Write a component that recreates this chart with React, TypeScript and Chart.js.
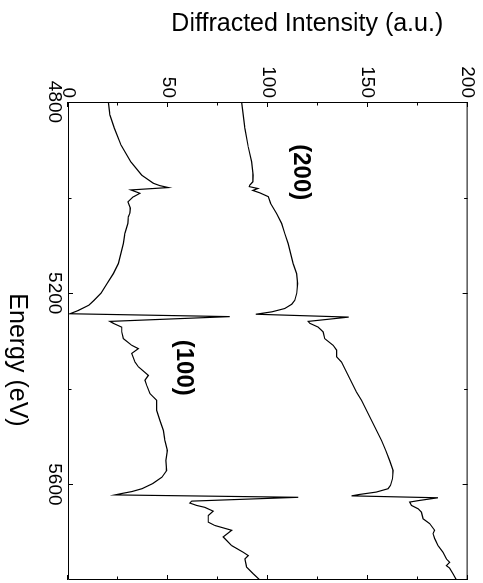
import { useEffect, useRef } from 'react';
import { Chart, registerables } from 'chart.js';

Chart.register(...registerables);

// Energy scans of the two reflections (eV) and their diffracted intensity (a.u.)
const ENERGY_100 = [
  4800, 4827, 4855, 4890, 4925, 4953, 4970, 4975, 4979, 4984, 4991, 4999, 5009, 5022, 5032,
  5040, 5054, 5075, 5096, 5117, 5138, 5159, 5180, 5200, 5215, 5225, 5236, 5243, 5249, 5259,
  5263, 5271, 5281, 5295, 5309, 5316, 5326, 5344, 5354, 5372, 5382, 5393, 5410, 5424, 5445,
  5466, 5487, 5508, 5529, 5550, 5571, 5585, 5598, 5609, 5615, 5619, 5622, 5627, 5635, 5639,
  5644, 5648, 5656, 5665, 5679, 5686, 5696, 5710, 5728, 5742, 5749, 5756, 5773, 5787, 5800,
];
const INTENSITY_100 = [
  20.2, 21, 23.2, 26.5, 31.4, 36.9, 42.7, 46, 50.2, 31.5, 36, 32.5, 30, 31.2, 31,
  30.2, 30, 28.5, 27.7, 26.5, 25.2, 22.7, 19.5, 16.5, 13, 10.5, 5.2, 1, 81, 21,
  22.7, 26.9, 26.9, 27.7, 31.9, 35.2, 31.9, 33.5, 35.2, 40.2, 38.5, 39.4, 41, 44.4, 44.4,
  46, 47.7, 48.5, 49.7, 49, 49.4, 47, 42.5, 37, 32, 27, 23.5, 115.2, 61.9, 61,
  64.4, 68.5, 72.7, 70.2, 70.2, 73.5, 81.9, 77.7, 81.9, 87.7, 90.2, 88.5, 89.4, 92.7, 96,
];

const ENERGY_200 = [
  4800, 4855, 4894, 4925, 4953, 4967, 4974, 4977, 4981, 4985, 4990, 4998, 5012, 5033, 5054,
  5075, 5096, 5117, 5138, 5159, 5180, 5200, 5215, 5223, 5232, 5239, 5244, 5250, 5259, 5263,
  5271, 5281, 5295, 5309, 5319, 5333, 5344, 5365, 5386, 5407, 5424, 5445, 5466, 5487, 5508,
  5529, 5550, 5571, 5588, 5602, 5609, 5616, 5621, 5624, 5628, 5634, 5637, 5644, 5651, 5658,
  5672, 5682, 5696, 5703, 5713, 5728, 5742, 5756, 5763, 5770, 5775, 5787, 5800,
];
const INTENSITY_200 = [
  86.9, 88.5, 90.2, 91.9, 92.7, 92.5, 91, 90.7, 95, 92.5, 96, 100.2, 101.4, 104.4, 106.9,
  108.5, 110.2, 111.4, 112.7, 114.4, 114.9, 114.5, 113.5, 112, 108.5, 102, 94, 140.5, 120.2, 121,
  125.2, 127.7, 128.5, 132.7, 134.4, 134.4, 136.9, 139.4, 141.9, 144.4, 146.9, 149.4, 151.9, 154.4, 156.9,
  159, 161, 162.7, 162.4, 161.4, 160.2, 154.4, 146, 141.9, 185.2, 175.2, 171, 171.9, 175.2, 176.9,
  177.7, 181, 183.5, 182.7, 183.5, 185.2, 187.7, 189.4, 191, 189.4, 191, 192.7, 194.4,
];

// Axis ranges, tick values and labels
const ENERGY_RANGE = [4800, 5800];
const ENERGY_LABELLED = [4800, 5200, 5600];
const ENERGY_MINOR = [5000, 5400];
const INTENSITY_RANGE = [0, 200];
const INTENSITY_LABELLED = [0, 50, 100, 150, 200];
const INTENSITY_MINOR = [25, 75, 125, 175];

// Reflection labels: [text, energy, intensity]
const PEAK_LABELS: [string, number, number][] = [
  ['(200)', 4947, 116.3],
  ['(100)', 5356, 58.1],
];

const X_TITLE = 'Energy (eV)';
const Y_TITLE = 'Diffracted Intensity (a.u.)';

const FONT = "'Liberation Sans', Arial, Helvetica, sans-serif";

// Box around the plot with inward tick marks on all four sides
const framePlugin = {
  id: 'frameTicks',
  afterDraw(chart: any) {
    const { ctx, chartArea: a, scales } = chart;
    const x = scales.x;
    const y = scales.y;
    ctx.save();
    ctx.strokeStyle = '#000';
    ctx.lineWidth = 1;
    ctx.beginPath();
    ctx.rect(a.left + 0.5, a.top + 0.5, a.right - a.left - 1, a.bottom - a.top - 1);
    const vTick = (v: number, len: number) => {
      const px = Math.round(x.getPixelForValue(v)) + 0.5;
      ctx.moveTo(px, a.bottom);
      ctx.lineTo(px, a.bottom - len);
      ctx.moveTo(px, a.top);
      ctx.lineTo(px, a.top + len);
    };
    const hTick = (v: number, len: number) => {
      const py = Math.round(y.getPixelForValue(v)) + 0.5;
      ctx.moveTo(a.left, py);
      ctx.lineTo(a.left + len, py);
      ctx.moveTo(a.right, py);
      ctx.lineTo(a.right - len, py);
    };
    ENERGY_LABELLED.forEach((v) => vTick(v, 5));
    ENERGY_MINOR.forEach((v) => vTick(v, 3.5));
    INTENSITY_LABELLED.forEach((v) => hTick(v, 5));
    INTENSITY_MINOR.forEach((v) => hTick(v, 3.5));
    ctx.stroke();
    ctx.restore();
  },
};

// Axis titles and the reflection labels
const textPlugin = {
  id: 'texts',
  afterDraw(chart: any) {
    const { ctx, chartArea: a, scales } = chart;
    const cx = (a.left + a.right) / 2;
    const cy = (a.top + a.bottom) / 2;
    ctx.save();
    ctx.fillStyle = '#000';
    ctx.textAlign = 'center';
    ctx.textBaseline = 'middle';

    ctx.font = `25px ${FONT}`;
    ctx.fillText(X_TITLE, cx + 19, a.bottom + 51);

    ctx.save();
    ctx.translate(a.left - 78, cy - 39.5);
    ctx.rotate(-Math.PI / 2);
    ctx.fillText(Y_TITLE, 0, 0);
    ctx.restore();

    ctx.font = `bold 24px ${FONT}`;
    PEAK_LABELS.forEach(([t, e, i]) => {
      ctx.fillText(t, scales.x.getPixelForValue(e), scales.y.getPixelForValue(i));
    });
    ctx.restore();
  },
};

function toPoints(xs: number[], ys: number[]) {
  return xs.map((v, i) => ({ x: v, y: ys[i] }));
}

export default function App() {
  const canvasRef = useRef<HTMLCanvasElement>(null);

  useEffect(() => {
    const canvas = canvasRef.current;
    if (!canvas) return;
    const lineStyle = {
      borderColor: '#000',
      borderWidth: 1.2,
      pointRadius: 0,
      tension: 0,
      fill: false,
    };
    const chart = new Chart(canvas, {
      type: 'line',
      data: {
        datasets: [
          { label: '(100)', data: toPoints(ENERGY_100, INTENSITY_100), ...lineStyle },
          { label: '(200)', data: toPoints(ENERGY_200, INTENSITY_200), ...lineStyle },
        ],
      },
      options: {
        animation: false,
        responsive: false,
        devicePixelRatio: 1,
        events: [],
        layout: { padding: { top: 15, right: 3, left: 0, bottom: 0 } },
        plugins: {
          legend: { display: false },
          tooltip: { enabled: false },
          title: { display: false },
        },
        scales: {
          x: {
            type: 'linear',
            min: ENERGY_RANGE[0],
            max: ENERGY_RANGE[1],
            grid: { display: false, drawTicks: false },
            border: { display: false },
            afterBuildTicks: (scale: any) => {
              scale.ticks = ENERGY_LABELLED.map((v) => ({ value: v }));
            },
            afterFit: (scale: any) => {
              scale.height = 68;
            },
            ticks: {
              color: '#000',
              font: { family: FONT, size: 19 },
              padding: 2,
              maxRotation: 0,
              autoSkip: false,
              callback: (v: any) => String(v),
            },
          },
          y: {
            type: 'linear',
            min: INTENSITY_RANGE[0],
            max: INTENSITY_RANGE[1],
            grid: { display: false, drawTicks: false },
            border: { display: false },
            afterBuildTicks: (scale: any) => {
              scale.ticks = INTENSITY_LABELLED.map((v) => ({ value: v }));
            },
            afterFit: (scale: any) => {
              scale.width = 102;
            },
            ticks: {
              color: '#000',
              font: { family: FONT, size: 19 },
              padding: 4,
              autoSkip: false,
              callback: (v: any) => String(v),
            },
          },
        },
      },
      plugins: [framePlugin, textPlugin],
    } as any);
    return () => chart.destroy();
  }, []);

  return (
    <div
      style={{
        position: 'fixed',
        left: 0,
        top: 0,
        width: 483,
        height: 583,
        overflow: 'hidden',
        background: '#fff',
      }}
    >
      <div
        style={{
          position: 'absolute',
          left: 0,
          top: 0,
          width: 583,
          height: 483,
          transformOrigin: '0 0',
          transform: 'translateX(483px) rotate(90deg)',
        }}
      >
        <canvas ref={canvasRef} width={583} height={483} style={{ display: 'block', width: 583, height: 483 }} />
      </div>
    </div>
  );
}
